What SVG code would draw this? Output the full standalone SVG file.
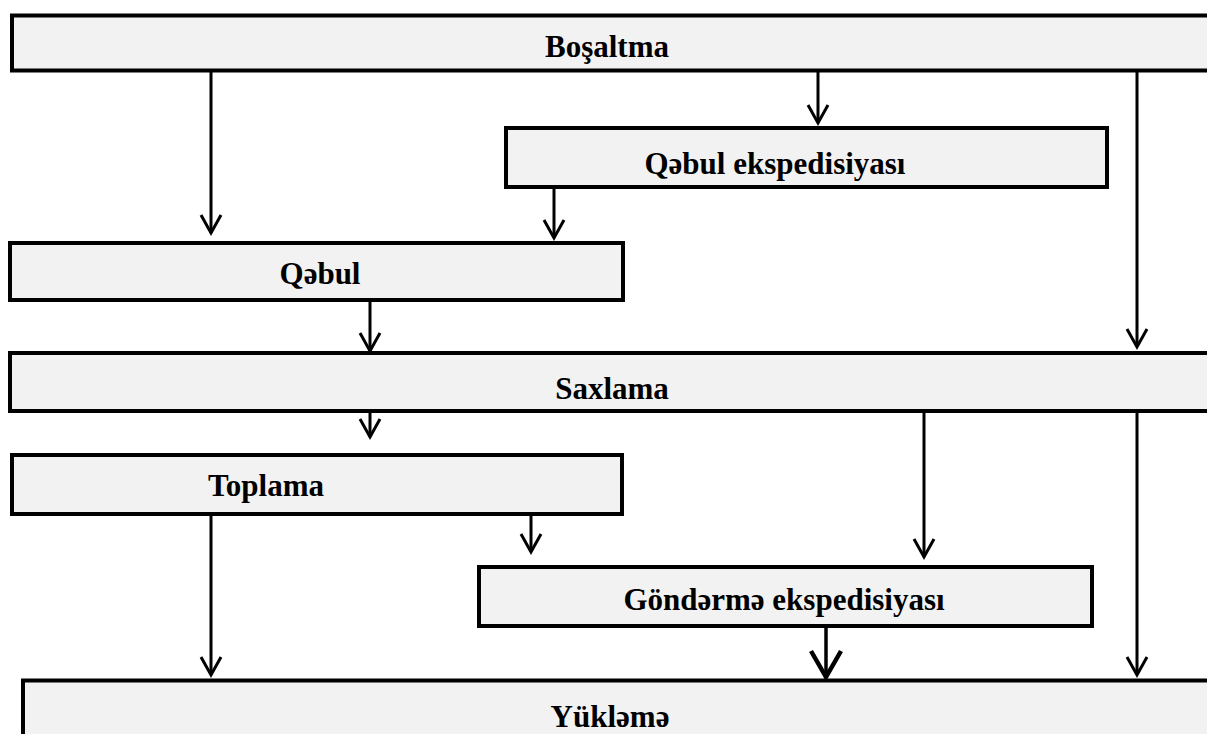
<svg xmlns="http://www.w3.org/2000/svg" width="1207" height="734" viewBox="0 0 1207 734">
<style>
.box{fill:#f2f2f2;stroke:#000;stroke-width:4}
.lbl{font-family:"Liberation Serif","Times New Roman",serif;font-weight:bold;font-size:31px;fill:#000;text-anchor:middle}
.con{fill:none;stroke:#000;stroke-width:3}
.con2{fill:none;stroke:#000;stroke-width:3.5}
</style>
<defs>
<marker id="ah" markerUnits="userSpaceOnUse" viewBox="-22 -13 26 26" refX="0" refY="0" markerWidth="26" markerHeight="26" orient="auto" overflow="visible">
<path d="M-18,-10 L0,0 L-18,10" fill="none" stroke="#000" stroke-width="3" stroke-linejoin="miter"/>
</marker>
<marker id="ahb" markerUnits="userSpaceOnUse" viewBox="-30 -18 34 36" refX="0" refY="0" markerWidth="34" markerHeight="36" orient="auto" overflow="visible">
<path d="M-26,-15 L0,0 L-26,15" fill="none" stroke="#000" stroke-width="4.5" stroke-linejoin="miter"/>
</marker>
</defs>
<rect width="1207" height="734" fill="#fff"/>
<g id="connectors">
<line class="con" x1="211" y1="71" x2="211" y2="233" marker-end="url(#ah)"/>
<line class="con" x1="818" y1="71" x2="818" y2="123" marker-end="url(#ah)"/>
<line class="con" x1="1137" y1="71" x2="1137" y2="347" marker-end="url(#ah)"/>
<line class="con" x1="554" y1="188" x2="554" y2="238" marker-end="url(#ah)"/>
<line class="con" x1="370" y1="300" x2="370" y2="351" marker-end="url(#ah)"/>
<line class="con" x1="370" y1="412" x2="370" y2="437" marker-end="url(#ah)"/>
<line class="con" x1="211" y1="514" x2="211" y2="675" marker-end="url(#ah)"/>
<line class="con" x1="531" y1="515" x2="531" y2="552" marker-end="url(#ah)"/>
<line class="con" x1="924" y1="411" x2="924" y2="557" marker-end="url(#ah)"/>
<line class="con2" x1="826" y1="626" x2="826" y2="677" marker-end="url(#ahb)"/>
<line class="con" x1="1137" y1="411" x2="1137" y2="675" marker-end="url(#ah)"/>
</g>
<g id="bosaltma">
<rect class="box" x="12" y="15.5" width="1210" height="55"/>
<text class="lbl" x="607" y="57">Boşaltma</text>
</g>
<g id="qebul-ekspedisiyasi">
<rect class="box" x="506" y="128" width="601" height="59"/>
<text class="lbl" x="775" y="174">Qəbul ekspedisiyası</text>
</g>
<g id="qebul">
<rect class="box" x="10" y="243" width="613" height="57"/>
<text class="lbl" x="320" y="284">Qəbul</text>
</g>
<g id="saxlama">
<rect class="box" x="10" y="353" width="1212" height="58"/>
<text class="lbl" x="612" y="399">Saxlama</text>
</g>
<g id="toplama">
<rect class="box" x="12" y="455" width="610" height="59"/>
<text class="lbl" x="266" y="496">Toplama</text>
</g>
<g id="gondarma-ekspedisiyasi">
<rect class="box" x="479" y="567" width="613" height="59"/>
<text class="lbl" x="784" y="610">Göndərmə ekspedisiyası</text>
</g>
<g id="yuklama">
<rect class="box" x="23" y="680.5" width="1200" height="70"/>
<text class="lbl" x="610" y="727">Yükləmə</text>
</g>
</svg>
